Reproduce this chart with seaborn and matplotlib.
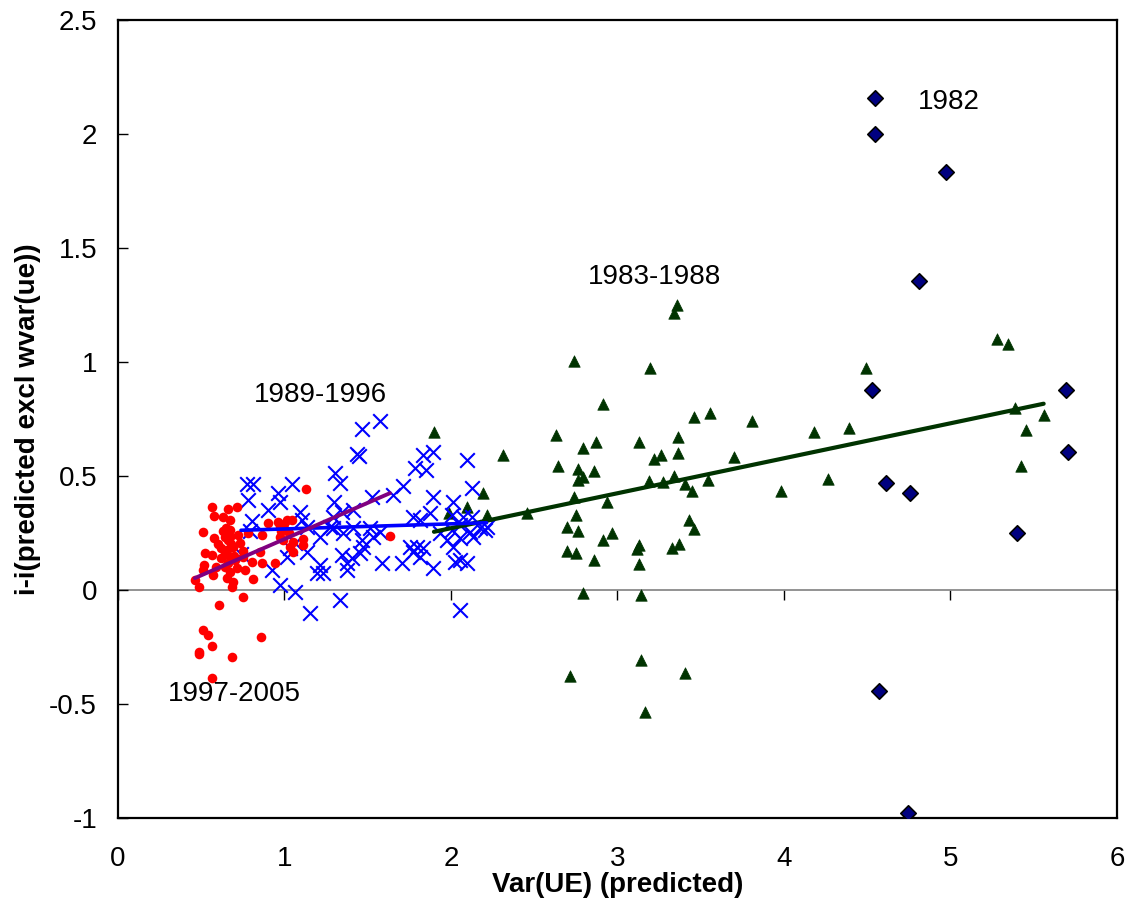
import numpy as np
import matplotlib
matplotlib.use("Agg")
import matplotlib.pyplot as plt
import seaborn as sns

# 1997-2005 (red dots)
red_x = [1.127, 0.566, 0.578, 0.659, 0.713, 0.632, 0.673, 0.512, 0.578, 0.632,
         0.673, 0.643, 0.673, 0.903, 0.867, 0.973, 1.013, 1.043, 0.973, 0.993,
         1.033, 1.053, 1.113, 1.113, 0.783, 0.619, 0.653, 0.692, 0.733, 0.523,
         0.563, 0.853, 0.619, 0.673, 0.703, 0.753, 0.803, 0.863, 0.943, 0.518,
         0.512, 0.572, 0.643, 0.673, 0.713, 0.763, 0.653, 0.692, 0.683, 0.809,
         0.462, 0.486, 0.753, 0.607, 0.512, 0.542, 0.566, 0.486, 0.486, 0.686,
         0.859, 0.566, 1.634, 0.650, 0.660, 0.680, 0.640, 0.700, 0.660, 0.600,
         0.980, 1.000, 1.030, 1.050, 0.960, 0.720, 0.590, 0.750]
red_y = [0.442, 0.363, 0.325, 0.354, 0.363, 0.321, 0.307, 0.256, 0.229, 0.259,
         0.263, 0.234, 0.234, 0.295, 0.241, 0.281, 0.307, 0.307, 0.234, 0.219,
         0.190, 0.168, 0.222, 0.197, 0.249, 0.183, 0.175, 0.190, 0.205, 0.161,
         0.154, 0.168, 0.139, 0.146, 0.132, 0.146, 0.124, 0.120, 0.120, 0.110,
         0.088, 0.066, 0.102, 0.080, 0.095, 0.088, 0.051, 0.036, 0.014, 0.048,
         0.044, 0.012, -0.029, -0.066, -0.175, -0.197, -0.244, -0.273, -0.282, -0.293,
         -0.205, -0.387, 0.237, 0.270, 0.220, 0.200, 0.160, 0.150, 0.120, 0.200,
         0.260, 0.290, 0.250, 0.210, 0.300, 0.240, 0.100, 0.170]

# 1989-1996 (blue crosses)
blue_x = [0.773, 0.813, 1.043, 0.963, 0.783, 0.973, 0.903, 1.093, 0.803, 0.793,
          1.103, 1.133, 0.739, 1.033, 1.013, 1.063, 1.133, 0.923, 1.213, 1.195,
          0.973, 1.063, 1.153, 1.303, 1.333, 1.297, 1.574, 1.465, 1.434, 1.447,
          1.524, 1.344, 1.413, 1.293, 1.293, 1.353, 1.413, 1.514, 1.574, 1.464,
          1.473, 1.533, 1.453, 1.344, 1.374, 1.404, 1.584, 1.233, 1.374, 1.333,
          1.652, 1.273, 1.213, 1.713, 1.784, 1.834, 1.894, 1.850, 2.094, 2.124,
          1.894, 2.014, 1.774, 1.874, 2.004, 2.074, 2.124, 1.934, 2.004, 2.054,
          2.114, 2.174, 2.204, 1.974, 2.054, 2.134, 2.014, 1.754, 1.794, 1.774,
          1.814, 1.704, 1.894, 2.024, 2.094, 2.054, 2.054, 1.834, 2.214, 1.814]
blue_y = [0.465, 0.465, 0.465, 0.425, 0.395, 0.386, 0.351, 0.342, 0.303, 0.259,
          0.307, 0.278, 0.158, 0.184, 0.146, 0.206, 0.168, 0.088, 0.110, 0.075,
          0.022, -0.007, -0.102, 0.513, 0.468, 0.387, 0.741, 0.706, 0.596, 0.588,
          0.408, 0.343, 0.351, 0.320, 0.271, 0.249, 0.271, 0.271, 0.256, 0.219,
          0.190, 0.234, 0.161, 0.154, 0.117, 0.139, 0.117, 0.073, 0.088, -0.044,
          0.417, 0.276, 0.232, 0.456, 0.535, 0.592, 0.607, 0.526, 0.572, 0.446,
          0.407, 0.387, 0.322, 0.336, 0.327, 0.322, 0.322, 0.249, 0.263, 0.285,
          0.256, 0.271, 0.263, 0.219, 0.228, 0.234, 0.190, 0.190, 0.190, 0.168,
          0.146, 0.117, 0.095, 0.124, 0.117, 0.132, -0.088, 0.183, 0.278, 0.307]

# 1983-1988 (green triangles)
green_x = [3.356, 3.339, 2.739, 3.193, 2.913, 3.461, 3.554, 3.808, 4.182, 4.389,
           4.491, 5.279, 5.345, 5.387, 5.560, 5.453, 5.425, 4.264, 3.982, 3.127,
           3.366, 3.366, 3.221, 3.261, 3.700, 3.192, 3.273, 3.339, 3.407, 3.447,
           3.541, 2.939, 3.432, 3.461, 2.965, 2.913, 3.127, 3.115, 3.369, 3.327,
           3.127, 3.139, 2.632, 2.793, 2.873, 2.311, 2.644, 2.765, 2.858, 2.765,
           2.793, 2.190, 2.099, 2.219, 2.458, 2.738, 2.751, 2.698, 2.765, 2.695,
           2.751, 2.859, 2.793, 3.139, 2.713, 3.407, 3.167, 1.898, 1.988]
green_y = [1.250, 1.214, 1.003, 0.974, 0.816, 0.760, 0.778, 0.740, 0.691, 0.709,
           0.972, 1.100, 1.080, 0.797, 0.766, 0.700, 0.544, 0.485, 0.436, 0.651,
           0.672, 0.602, 0.573, 0.594, 0.585, 0.478, 0.474, 0.498, 0.465, 0.436,
           0.484, 0.387, 0.309, 0.268, 0.250, 0.221, 0.199, 0.181, 0.200, 0.183,
           0.114, -0.022, 0.680, 0.621, 0.650, 0.592, 0.542, 0.532, 0.523, 0.484,
           0.494, 0.426, 0.366, 0.329, 0.336, 0.408, 0.327, 0.278, 0.260, 0.173,
           0.161, 0.132, -0.013, -0.307, -0.376, -0.365, -0.534, 0.691, 0.336]

# 1982 (navy diamonds)
navy_x = [4.545, 4.545, 4.971, 4.811, 4.530, 5.692, 4.611, 4.759, 5.707, 5.399,
          4.571, 4.743]
navy_y = [2.157, 2.000, 1.832, 1.355, 0.877, 0.877, 0.468, 0.427, 0.604, 0.251,
          -0.443, -0.979]

xticks = [0, 1, 2, 3, 4, 5, 6]
yticks = [-1, -0.5, 0, 0.5, 1, 1.5, 2, 2.5]
ytick_labels = ["-1", "-0.5", "0", "0.5", "1", "1.5", "2", "2.5"]


def main():
    sns.set_theme(style="white")
    plt.rcParams["font.family"] = ["Liberation Sans", "DejaVu Sans"]
    plt.rcParams["axes.unicode_minus"] = False
    plt.rcParams["text.color"] = "black"
    plt.rcParams["axes.labelcolor"] = "black"
    plt.rcParams["xtick.color"] = "black"
    plt.rcParams["ytick.color"] = "black"

    fig = plt.figure(figsize=(11.33, 9.07), dpi=100)
    ax = fig.add_axes([0.1041, 0.0981, 0.8817, 0.8798])

    # points
    sns.scatterplot(x=green_x, y=green_y, marker="^", s=68, color="#003300",
                    edgecolor="#003300", linewidth=0.5, ax=ax, zorder=3)
    sns.scatterplot(x=navy_x, y=navy_y, marker="D", s=62, color="#000080",
                    edgecolor="black", linewidth=1.2, ax=ax, zorder=3)
    sns.scatterplot(x=blue_x, y=blue_y, marker="x", s=110, color="#0000FF",
                    linewidth=1.5, ax=ax, zorder=3)
    sns.scatterplot(x=red_x, y=red_y, marker="o", s=48, color="#FF0000",
                    edgecolor="#FF0000", linewidth=0, ax=ax, zorder=3)

    # linear trend lines per period
    sns.regplot(x=green_x, y=green_y, scatter=False, ci=None, color="#003300",
                line_kws={"linewidth": 3, "zorder": 4}, ax=ax)
    sns.regplot(x=blue_x, y=blue_y, scatter=False, ci=None, color="#0000FF",
                line_kws={"linewidth": 2.6, "zorder": 4}, ax=ax)
    sns.regplot(x=red_x, y=red_y, scatter=False, ci=None, color="#800080",
                line_kws={"linewidth": 2.8, "zorder": 4}, ax=ax)

    # period labels
    ax.text(4.99, 2.142, "1982", ha="center", va="center", fontsize=20)
    ax.text(3.222, 1.373, "1983-1988", ha="center", va="center", fontsize=20)
    ax.text(1.219, 0.855, "1989-1996", ha="center", va="center", fontsize=20)
    ax.text(0.697, -0.454, "1997-2005", ha="center", va="center", fontsize=20)

    ax.set_xlim(0, 6)
    ax.set_ylim(-1, 2.5)
    ax.set_xticks(xticks)
    ax.set_xticklabels([str(t) for t in xticks])
    ax.set_yticks(yticks)
    ax.set_yticklabels(ytick_labels)

    for side in ["left", "right", "top", "bottom"]:
        ax.spines[side].set_color("black")
        ax.spines[side].set_linewidth(1.6)

    ax.tick_params(axis="y", direction="in", length=7, width=1, color="black",
                   labelsize=20, pad=15, left=True)
    ax.tick_params(axis="x", length=0, labelsize=20, pad=20)

    # horizontal axis crossing at zero, with its tick marks
    zero_axis = ax.secondary_xaxis(1 / 3.5)
    zero_axis.set_xticks(xticks)
    zero_axis.tick_params(direction="out", length=7, width=1, color="black",
                          labelbottom=False, labeltop=False)
    for side in ["bottom", "top"]:
        zero_axis.spines[side].set_color("#808080")
        zero_axis.spines[side].set_linewidth(1.2)

    ax.set_xlabel("Var(UE) (predicted)", fontsize=20, fontweight="bold", labelpad=0)
    ax.set_ylabel("i-i(predicted excl wvar(ue))", fontsize=20, fontweight="bold",
                  labelpad=6)

    fig.savefig("out.png", dpi=100, facecolor="white")


if __name__ == "__main__":
    main()
